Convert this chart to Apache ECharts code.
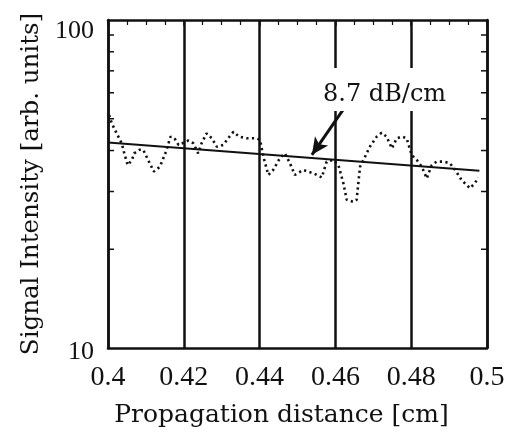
<!DOCTYPE html>
<html>
<head>
<meta charset="utf-8">
<script src="https://cdn.jsdelivr.net/npm/echarts@6/dist/echarts.min.js"></script>
<style>
html,body{margin:0;padding:0;background:#fff;}
#chart{width:517px;height:434px;}
</style>
</head>
<body>
<div id="chart"></div>
<script>
// ---- data ----
const X_MIN = 0.4, X_MAX = 0.5, X_STEP = 0.02;
const Y_MIN = 10, Y_MAX = 100;
const X_TICK_LABELS = ['0.4', '0.42', '0.44', '0.46', '0.48', '0.5'];
const Y_MINOR_TICKS = [20, 30, 40, 50, 60, 70, 80, 90];

const MEAS_X = [0.4003,0.4010,0.4023,0.4036,0.4043,0.4052,0.4063,0.4069,0.4083,0.4093,
  0.4106,0.4121,0.4137,0.4153,0.4165,0.4177,0.4186,0.4212,0.4225,0.4238,
  0.4247,0.4260,0.4274,0.4287,0.4304,0.4317,0.4331,0.4346,0.4366,0.4392,
  0.4401,0.4410,0.4423,0.4436,0.4454,0.4467,0.4480,0.4493,0.4515,0.4542,
  0.4564,0.4577,0.4594,0.4608,0.4621,0.4630,0.4647,0.4656,0.4665,0.4674,
  0.4691,0.4709,0.4722,0.4735,0.4749,0.4762,0.4775,0.4788,0.4801,0.4815,
  0.4828,0.4841,0.4854,0.4867,0.4885,0.4902,0.4916,0.4933,0.4955,0.4968,0.4977];
const MEAS_Y = [51.3,48.4,45.1,42.1,39.2,36.1,37.4,39.2,40.2,40.2,
  37.4,34.5,35.7,39.7,44.1,43.3,41.6,42.9,42.1,39.2,
  42.1,45.1,43.6,41.1,41.6,43.6,45.6,44.1,43.6,43.6,
  43.1,38.3,33.7,34.9,38.0,39.2,36.6,33.7,34.9,34.1,
  33.1,37.0,37.4,36.1,31.8,28.3,27.9,28.3,35.7,37.4,
  41.1,44.1,45.3,44.1,40.6,43.6,44.1,43.6,38.8,37.4,
  35.7,32.9,36.1,37.0,37.0,36.6,34.9,32.5,30.7,31.8,33.1];

const FIT_X = [0.4, 0.498];
const FIT_Y = [42.3, 34.7];

const ANNOTATION_TEXT = '8.7 dB/cm';
const ARROW_FROM = [0.462, 53.2];
const ARROW_TO = [0.4538, 38.8];

const X_TITLE = 'Propagation distance [cm]';
const Y_TITLE = 'Signal Intensity [arb. units]';

// ---- chart ----
const FONT = '"DejaVu Serif", "Liberation Serif", serif';
const NUM_FONT = '"Liberation Serif", "DejaVu Serif", serif';
const INK = '#111';

const chart = echarts.init(document.getElementById('chart'), null, {renderer: 'canvas'});

const measData = MEAS_X.map((x, i) => [x, MEAS_Y[i]]);
const fitData = FIT_X.map((x, i) => [x, FIT_Y[i]]);
const minorData = Y_MINOR_TICKS.map(v => [X_MIN, v]);

const option = {
  animation: false,
  backgroundColor: '#fff',
  grid: {left: 108, top: 20, width: 379, height: 328, containLabel: false, outerBoundsMode: 'none'},
  xAxis: [
    {
      type: 'value', position: 'bottom', min: X_MIN, max: X_MAX, interval: X_STEP,
      axisLine: {show: true, onZero: false, lineStyle: {color: INK, width: 2.5}},
      axisTick: {show: false},
      splitLine: {show: true, lineStyle: {color: INK, width: 2.5}},
      axisLabel: {
        margin: 16, color: INK, fontFamily: NUM_FONT, fontSize: 28,
        formatter: (v) => {
          const idx = Math.round((v - X_MIN) / X_STEP);
          return X_TICK_LABELS[idx] !== undefined ? X_TICK_LABELS[idx] : '';
        }
      },
      name: X_TITLE, nameLocation: 'middle', nameGap: 55,
      nameTextStyle: {color: INK, fontFamily: FONT, fontSize: 25, padding: [0, 32, 0, 0]}
    },
    {
      type: 'value', position: 'top', min: X_MIN, max: X_MAX, interval: X_STEP,
      axisLine: {show: true, onZero: false, lineStyle: {color: INK, width: 2.5}},
      axisTick: {show: true, inside: true, length: 6, lineStyle: {color: INK, width: 1.5}},
      minorTick: {show: true, splitNumber: 4, length: 5, lineStyle: {color: INK, width: 1.2}},
      splitLine: {show: false},
      axisLabel: {show: false}
    }
  ],
  yAxis: [
    {
      type: 'log', logBase: 10, min: Y_MIN, max: Y_MAX, position: 'left',
      axisLine: {show: true, onZero: false, lineStyle: {color: INK, width: 2.5}},
      axisTick: {show: false},
      splitLine: {show: false},
      axisLabel: {
        margin: 14, color: INK, fontFamily: NUM_FONT, fontSize: 26,
        formatter: (v) => v >= 99 ? '{hi|' + Math.round(v) + '}' : '{lo|' + Math.round(v) + '}',
        rich: {
          hi: {fontFamily: NUM_FONT, fontSize: 26, color: INK, padding: [22, 0, 0, 0]},
          lo: {fontFamily: NUM_FONT, fontSize: 26, color: INK, padding: [8, 0, 0, 0]}
        }
      },
      name: Y_TITLE, nameLocation: 'middle', nameGap: 60,
      nameTextStyle: {color: INK, fontFamily: FONT, fontSize: 24.5}
    },
    {
      type: 'log', logBase: 10, min: Y_MIN, max: Y_MAX, position: 'right',
      axisLine: {show: true, onZero: false, lineStyle: {color: INK, width: 2.5}},
      axisTick: {show: false},
      splitLine: {show: false},
      axisLabel: {show: false}
    }
  ],
  graphic: [
    {
      type: 'text', left: 321, top: 68, z: 100,
      style: {
        text: ANNOTATION_TEXT, font: '24px ' + FONT, fill: INK,
        backgroundColor: '#fff', padding: [15, 2, 4, 2]
      }
    }
  ],
  series: [
    {
      type: 'custom', name: 'minor', xAxisIndex: 0, yAxisIndex: 0, silent: true,
      data: minorData, encode: {x: 0, y: 1},
      renderItem: (params, api) => {
        const v = api.value(1);
        const l = api.coord([X_MIN, v]);
        const r = api.coord([X_MAX, v]);
        return {
          type: 'group',
          children: [
            {type: 'line', shape: {x1: l[0], y1: l[1], x2: l[0] + 6, y2: l[1]}, style: {stroke: INK, lineWidth: 1.5}},
            {type: 'line', shape: {x1: r[0] - 6, y1: r[1], x2: r[0], y2: r[1]}, style: {stroke: INK, lineWidth: 1.5}}
          ]
        };
      }
    },
    {
      type: 'line', name: 'measured', xAxisIndex: 0, yAxisIndex: 0,
      data: measData, showSymbol: false, symbol: 'none', smooth: false,
      lineStyle: {color: INK, width: 2.6, type: [2.2, 3.4], cap: 'butt'},
      z: 3
    },
    {
      type: 'line', name: 'fit', xAxisIndex: 0, yAxisIndex: 0,
      data: fitData, showSymbol: false, symbol: 'none',
      lineStyle: {color: INK, width: 2},
      z: 4,
      markLine: {
        silent: true, animation: false,
        label: {show: false},
        lineStyle: {color: INK, width: 3, type: 'solid'},
        data: [[
          {coord: ARROW_FROM, symbol: 'none'},
          {coord: ARROW_TO, symbol: 'arrow', symbolSize: [12, 17]}
        ]]
      }
    }
  ]
};
chart.setOption(option);
</script>
</body>
</html>
